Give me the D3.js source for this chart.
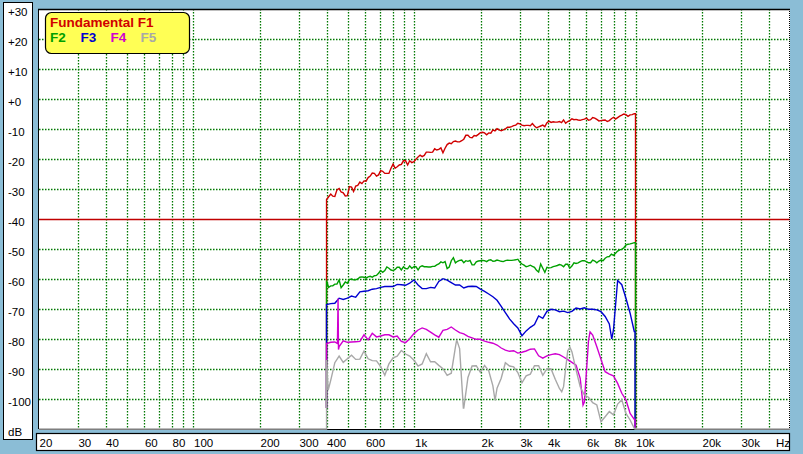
<!DOCTYPE html>
<html><head><meta charset="utf-8">
<script src="https://cdn.jsdelivr.net/npm/d3@7"></script>
<style>html,body{margin:0;padding:0;background:#8bbdd6;} svg{display:block;}</style>
</head><body>
<svg id="chart" width="803" height="454"></svg>
<script>
// ---------- DATA ----------
const freqs = [400,418,436,456,476,497,519,542,566,591,617,644,673,703,734,766,
  800,835,872,911,951,994,1038,1083,1131,1182,1234,1288,1345,1405,1467,1532,
  1600,1671,1745,1822,1903,1987,2075,2167,2263,2363,2468,2577,2691,2810,2934,3064,
  3200,3342,3490,3644,3806,3974,4150,4334,4526,4726,4935,5154,5382,5620,5869,6129,
  6400,6683,6979,7288,7611,7948,8300,8667,9051,9452,9870];

// extra read-off frequencies between the main ones (used for the noisier F1 / F2)
const midFreqs = [408.8,426.8,445.8,465.5,486.1,507.7,530.1,553.6,
  578.1,603.7,630.4,658.3,687.5,717.9,749.7,782.9,
  817.5,853.7,891.5,931.0,972.2,1015.2,1060.2,1107.1,
  1156.2,1207.3,1260.8,1316.6,1374.9,1435.8,1499.4,1565.7,
  1635.0,1707.4,1783.0,1862.0,1944.4,2030.5,2120.4,2214.3,
  2312.3,2414.7,2521.6,2633.3,2749.9,2871.6,2998.8,3131.5,
  3270.1,3414.9,3566.1,3724.0,3888.8,4061.0,4240.8,4428.5,
  4624.6,4829.3,5043.1,5266.4,5499.6,5743.0,5997.3,6262.8,
  6540.1,6829.6,7132.0,7447.7,7777.4,8121.8,8481.3,8856.8,
  9248.9,9658.4];

const f1 = [-33.5,-31.7,-32.5,-29.8,-31.3,-32.2,-29.4,-29.0,
  -27.7,-27.3,-26.2,-24.7,-25.7,-23.9,-24.8,-24.8,
  -21.7,-22.6,-21.8,-20.6,-20.6,-20.9,-19.3,-19.2,
  -17.7,-17.8,-16.6,-16.8,-17.9,-15.2,-14.9,-14.0,
  -14.3,-13.4,-12.1,-12.9,-12.3,-11.2,-11.3,-11.3,
  -10.3,-9.9,-10.6,-10.0,-9.4,-8.9,-8.1,-8.7,
  -8.8,-8.9,-9.0,-9.3,-8.7,-7.9,-7.8,-7.7,
  -7.5,-7.0,-7.5,-6.6,-6.8,-7.1,-6.7,-7.1,
  -6.2,-6.8,-7.2,-7.0,-7.2,-6.1,-6.2,-5.4,
  -5.2,-5.3,-4.9];
const f1Mid = [-32.6,-32.4,-30.3,-31.0,-32.3,-29.2,-30.8,-28.8,
  -28.2,-27.4,-25.7,-24.8,-25.3,-24.1,-24.8,-23.1,
  -23.1,-22.0,-20.6,-22.0,-21.2,-20.1,-18.7,-18.8,
  -17.7,-17.7,-17.0,-16.3,-16.4,-14.7,-14.2,-14.3,
  -13.9,-12.1,-12.8,-12.2,-11.8,-11.1,-11.9,-11.4,
  -10.6,-10.3,-10.3,-9.4,-9.2,-8.7,-8.3,-8.9,
  -8.8,-8.2,-9.6,-9.0,-9.2,-7.4,-7.6,-7.7,
  -7.9,-8.1,-7.2,-6.9,-7.0,-6.9,-6.4,-6.9,
  -6.4,-7.3,-7.1,-7.5,-6.6,-6.7,-5.7,-5.0,
  -5.8,-5.2];

const f2 = [-60.5,-62.3,-61.7,-60.3,-62.0,-61.4,-60.0,-60.3,
  -59.4,-59.4,-59.3,-59.4,-58.8,-57.2,-57.2,-56.4,
  -57.2,-56.1,-57.0,-56.5,-55.6,-55.9,-57.0,-55.6,
  -55.9,-56.0,-55.8,-55.0,-54.6,-56.5,-53.9,-54.6,
  -53.8,-54.6,-54.1,-55.3,-54.3,-53.9,-53.9,-53.7,
  -54.1,-53.7,-54.1,-53.9,-53.8,-53.7,-53.4,-55.0,
  -55.9,-55.4,-56.1,-57.7,-56.4,-56.1,-56.2,-55.7,
  -55.2,-55.9,-55.1,-55.7,-54.8,-54.2,-53.9,-54.6,
  -53.7,-54.6,-53.7,-53.1,-52.5,-52.1,-50.7,-50.1,
  -48.7,-48.3,-47.9];
const f2Mid = [-62.8,-62.3,-61.7,-62.9,-61.0,-60.2,-60.3,-60.0,
  -59.3,-59.7,-59.1,-58.9,-58.1,-57.8,-56.0,-57.0,
  -56.8,-56.1,-55.9,-56.6,-56.4,-55.9,-55.9,-55.9,
  -56.0,-55.8,-55.3,-54.3,-54.2,-56.0,-52.9,-54.1,
  -53.7,-53.9,-53.8,-55.3,-54.0,-53.8,-54.2,-53.6,
  -54.0,-53.9,-54.2,-53.7,-53.8,-53.6,-54.4,-55.4,
  -55.7,-55.8,-57.1,-55.0,-57.8,-56.3,-55.9,-55.5,
  -55.4,-55.1,-56.4,-54.6,-54.6,-53.9,-54.2,-54.6,
  -54.0,-54.0,-53.9,-52.6,-51.7,-51.4,-50.3,-49.6,
  -48.4,-48.1];

const f3 = [-68.5,-68.2,-68.1,-66.4,-66.8,-66.4,-65.7,-66.1,
  -64.3,-64.1,-63.9,-63.4,-63.2,-62.8,-62.5,-62.5,
  -62.5,-61.8,-61.9,-62.1,-61.4,-60.3,-62.0,-63.2,
  -63.2,-62.8,-63.0,-60.8,-59.9,-60.4,-61.2,-62.0,
  -62.0,-63.0,-62.5,-62.4,-62.5,-63.4,-64.1,-65.0,
  -65.9,-67.1,-69.1,-71.2,-73.3,-74.9,-76.3,-78.9,
  -77.3,-76.1,-75.2,-72.3,-73.1,-70.8,-70.1,-70.3,
  -70.9,-70.7,-71.2,-70.8,-69.7,-70.0,-69.6,-70.1,
  -70.1,-70.3,-70.9,-72.5,-75.0,-77.0,-60.5,-61.9,
  -66.4,-71.4,-77.5];

const f4 = [-81.5,-81.1,-81.0,-82.5,-80.6,-81.1,-81.0,-80.9,
  -80.8,-78.6,-80.3,-78.1,-79.3,-79.0,-78.6,-78.6,
  -79.3,-79.0,-80.8,-81.2,-79.9,-78.2,-77.0,-76.3,
  -76.8,-77.7,-78.6,-79.4,-77.1,-76.8,-76.0,-77.0,
  -77.9,-78.3,-79.1,-79.6,-80.1,-80.1,-80.7,-81.1,
  -81.4,-82.0,-83.0,-83.7,-84.1,-83.9,-84.7,-84.4,
  -84.0,-83.4,-83.3,-85.6,-86.4,-85.6,-85.2,-84.9,
  -85.2,-86.0,-86.9,-87.8,-88.7,-93.1,-101.0,-80.5,
  -78.7,-82.6,-86.8,-90.9,-91.7,-92.3,-94.8,-98.1,
  -100.3,-104.8,-106.8];

const f5 = [-87.0,-93.7,-87.9,-85.7,-87.8,-86.6,-85.4,-86.8,
  -86.7,-84.0,-86.6,-87.2,-87.3,-89.2,-92.1,-88.3,
  -86.3,-85.7,-83.8,-85.0,-85.7,-87.1,-89.0,-88.3,
  -84.9,-87.6,-87.6,-88.8,-89.9,-92.1,-91.4,-82.6,
  -83.2,-103.0,-92.8,-89.0,-88.9,-91.1,-88.8,-90.6,
  -95.6,-96.4,-93.1,-87.9,-89.0,-89.3,-91.2,-94.6,
  -92.3,-91.7,-88.9,-88.9,-92.1,-89.9,-90.0,-93.4,
  -96.5,-95.9,-83.9,-84.2,-90.3,-95.9,-98.7,-99.4,
  -101.2,-102.0,-107.6,-105.9,-104.2,-105.3,-101.7,-100.3,
  -104.8,-107.0,-109.8];

// narrow features read between the main frequencies: [Hz, dB]
const f3Extra = [[7806,-80.0]];
const f4Extra = [[448,-81.5],[451,-66.5],[453,-83.5],[5788,-102.0],[6226,-77.6]];
const f5Extra = [[407,-97.0],[1552,-80.3],[1664,-103.0],[2314,-100.5],[4636,-97.6],[5054,-82.8]];

const seriesNames  = ["Fundamental F1","F2","F3","F4","F5"];
const seriesColors = ["#d00000","#00a000","#0000d0","#d000d0","#a8a8a8"];
const startLevels  = [-103,-103,-103,-103,-110];
const endFreqs     = [10000,10000,9950,9950,9950];
const floorDb      = -110;
const bandStart    = 400;
const freqDomain   = [20,50000];
const dbDomain     = [-110,30];

const xTickValues = [20,30,40,60,80,100,200,300,400,600,1000,2000,3000,4000,6000,8000,10000,20000,30000];
const xTickLabels = ["20","30","40","60","80","100","200","300","400","600","1k","2k","3k","4k","6k","8k","10k","20k","30k"];
const xGridValues = [30,40,50,60,70,80,90,100,200,300,400,500,600,700,800,900,
  1000,2000,3000,4000,5000,6000,7000,8000,9000,10000,20000,30000,40000];
const yTickValues = [30,20,10,0,-10,-20,-30,-40,-50,-60,-70,-80,-90,-100,-110];
const yTickLabels = ["+30","+20","+10","+0","-10","-20","-30","-40","-50","-60","-70","-80","-90","-100","dB"];
const yGridValues = [20,10,0,-10,-20,-30,-50,-60,-70,-80,-90,-100];
const refLevel = -40;

// ---------- DRAW ----------
const FONT = "'Liberation Sans', Arial, sans-serif";
const L = 39, R = 790, T = 9, B = 429;
const x = d3.scaleLog().domain(freqDomain).range([L, R]);
const y = d3.scaleLinear().domain(dbDomain).range([B, T]);
const svg = d3.select("#chart");
const GRID = "#007800";

svg.append("rect").attr("width",803).attr("height",454).attr("fill","#8bbdd6");

// left label panel
svg.append("rect").attr("x",3.5).attr("y",2.5).attr("width",29).attr("height",437)
  .attr("fill","#fff").attr("stroke","#000").attr("stroke-width",1);
// bottom label panel
svg.append("rect").attr("x",36.5).attr("y",433.5).attr("width",753).attr("height",17)
  .attr("fill","#fff").attr("stroke","#000").attr("stroke-width",1.2);

// plot area
svg.append("rect").attr("x",L).attr("y",T).attr("width",R-L).attr("height",B-T).attr("fill","#fff");

// vertical grid, snapped to pixels
svg.append("g").selectAll("line").data(xGridValues).join("line")
  .attr("x1",d=>Math.round(x(d))+0.5).attr("x2",d=>Math.round(x(d))+0.5)
  .attr("y1",T).attr("y2",B)
  .attr("stroke",GRID).attr("stroke-width",1.3).attr("stroke-dasharray","1.5,1.5");
// horizontal grid
svg.append("g").selectAll("line").data(yGridValues).join("line")
  .attr("x1",L).attr("x2",R)
  .attr("y1",d=>Math.round(y(d))+0.5).attr("y2",d=>Math.round(y(d))+0.5)
  .attr("stroke",GRID).attr("stroke-width",1.3).attr("stroke-dasharray","1.5,1.5");

// reference line
svg.append("line").attr("x1",L).attr("x2",R).attr("y1",Math.round(y(refLevel))+0.5).attr("y2",Math.round(y(refLevel))+0.5)
  .attr("stroke","#c00000").attr("stroke-width",1.5);

// borders
svg.append("line").attr("x1",L-1).attr("x2",R).attr("y1",T+0.5).attr("y2",T+0.5).attr("stroke","#000").attr("stroke-width",1.5);
svg.append("line").attr("x1",L-0.5).attr("x2",L-0.5).attr("y1",T).attr("y2",B).attr("stroke","#000");
svg.append("line").attr("x1",R-0.5).attr("x2",R-0.5).attr("y1",T).attr("y2",B).attr("stroke","#000").attr("stroke-dasharray","1,1");
svg.append("line").attr("x1",L).attr("x2",R).attr("y1",B+0.5).attr("y2",B+0.5).attr("stroke","#000");

// traces
const clip = svg.append("clipPath").attr("id","plotclip");
clip.append("rect").attr("x",L).attr("y",T).attr("width",R-L).attr("height",B-T+1.5);
const line = d3.line().x(d=>x(d[0])).y(d=>y(d[1]));
const allVals = [f1,f2,f3,f4,f5];
const allMids = [f1Mid,f2Mid,null,null,null];
const allExtras = [[],[],f3Extra,f4Extra,f5Extra];
const traces = svg.append("g").attr("clip-path","url(#plotclip)");
allVals.forEach((vals,k)=>{
  let pts = freqs.map((f,i)=>[f,vals[i]]).concat(allExtras[k]);
  if (allMids[k]) pts = pts.concat(midFreqs.map((f,i)=>[f,allMids[k][i]]));
  pts.sort((a,b)=>a[0]-b[0]);
  pts = [[bandStart,startLevels[k]]].concat(pts);
  pts.push([endFreqs[k], vals[vals.length-1]]);
  pts.push([endFreqs[k], floorDb]);
  if (k === 4) { pts = [[freqDomain[0],floorDb]].concat(pts); pts.push([freqDomain[1],floorDb]); }
  traces.append("path").datum(pts).attr("d",line).attr("fill","none")
    .attr("stroke",seriesColors[k]).attr("stroke-width",1.4).attr("stroke-linejoin","miter");
});

// y labels via axis
const ay = svg.append("g").attr("transform","translate(8,0)")
  .call(d3.axisLeft(y).tickValues(yTickValues).tickSize(0).tickFormat((d,i)=>yTickLabels[i]));
ay.select(".domain").remove();
ay.selectAll("text").attr("x",0).attr("dy",null).attr("y",6).attr("text-anchor","start")
  .attr("font-family",FONT).attr("font-size",11.5).attr("fill","#000");

// x labels via axis
const ax = svg.append("g").attr("transform","translate(0,433)")
  .call(d3.axisBottom(x).tickValues(xTickValues).tickSize(0).tickFormat((d,i)=>xTickLabels[i]));
ax.select(".domain").remove();
ax.selectAll("text").attr("y",14).attr("dy",null).attr("text-anchor","start")
  .attr("font-family",FONT).attr("font-size",11.5).attr("fill","#000");
svg.append("text").attr("x",776).attr("y",447).attr("font-family",FONT).attr("font-size",11.5).text("Hz");

// legend
const lg = svg.append("g");
lg.append("rect").attr("x",45.5).attr("y",12.5).attr("width",144).attr("height",41).attr("rx",6)
  .attr("fill","#ffff55").attr("stroke","#000").attr("stroke-width",1.2);
const legendPos = [[50,26.5],[50,41.5],[80.5,41.5],[110.5,41.5],[140.5,41.5]];
seriesNames.forEach((n,k)=>{
  lg.append("text").attr("x",legendPos[k][0]).attr("y",legendPos[k][1])
    .attr("font-family",FONT).attr("font-weight","bold").attr("font-size",13.5)
    .attr("fill",seriesColors[k]).text(n);
});
</script>
</body></html>
